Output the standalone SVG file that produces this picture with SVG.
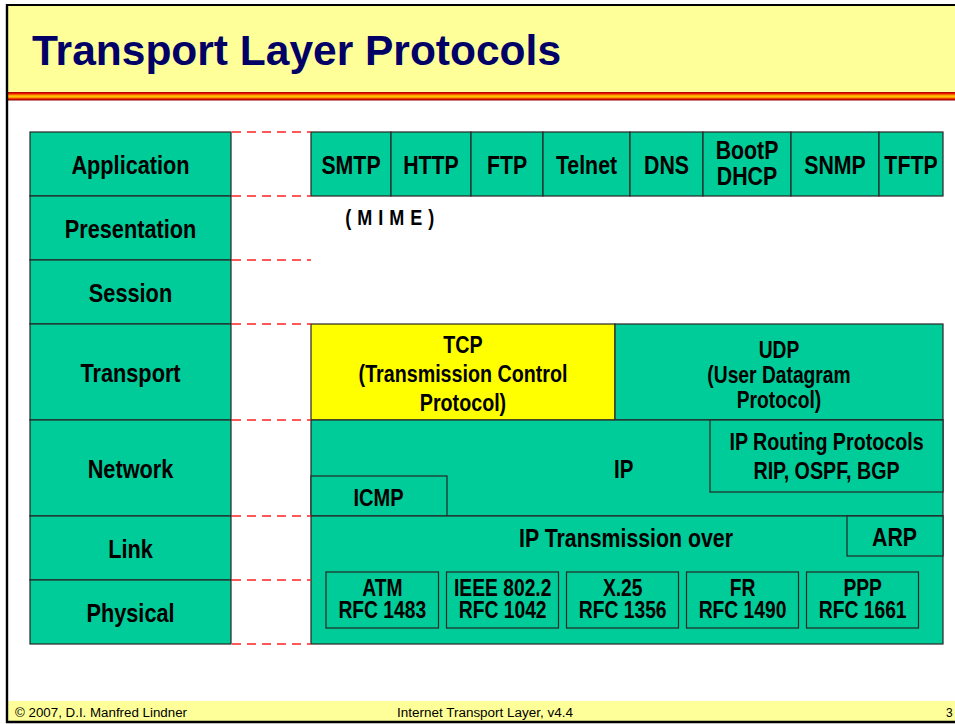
<svg xmlns="http://www.w3.org/2000/svg" width="955" height="724" viewBox="0 0 955 724">
<defs>
<linearGradient id="stripe" x1="0" y1="0" x2="0" y2="1">
<stop offset="0" stop-color="#990000"/>
<stop offset="0.18" stop-color="#EE1100"/>
<stop offset="0.38" stop-color="#FF9900"/>
<stop offset="0.5" stop-color="#FFCC00"/>
<stop offset="0.65" stop-color="#FF9900"/>
<stop offset="0.82" stop-color="#DD1100"/>
<stop offset="1" stop-color="#880000"/>
</linearGradient>
<style>
.g{fill:#00CC99;stroke:#262626;stroke-width:1.2}
.y{fill:#FFFF00;stroke:#262626;stroke-width:1.2}
.t{font-family:"Liberation Sans",Arial,sans-serif;font-weight:bold;fill:#000;text-anchor:middle}
.d{stroke:#FF2222;stroke-width:1.5;stroke-dasharray:9 6;fill:none}
.f{font-family:"Liberation Sans",Arial,sans-serif;font-size:12px;fill:#000}
</style>
</defs>
<rect x="0" y="0" width="955" height="724" fill="#FFFFFF"/>
<!-- header -->
<rect x="7" y="5" width="948" height="87" fill="#FFFF99"/>
<rect x="7" y="92" width="948" height="8.5" fill="url(#stripe)"/>
<text x="32" y="65" font-family="'Liberation Sans',Arial,sans-serif" font-weight="bold" font-size="42.5" fill="#000066">Transport Layer Protocols</text>
<!-- footer -->
<rect x="7" y="701" width="948" height="20" fill="#FFFF99"/>
<text class="f" x="15" y="716.5" textLength="172" lengthAdjust="spacingAndGlyphs">© 2007, D.I. Manfred Lindner</text>
<text class="f" x="397" y="716.5" textLength="176" lengthAdjust="spacingAndGlyphs">Internet Transport Layer, v4.4</text>
<text class="f" x="946" y="717">3</text>
<!-- frame -->
<line x1="6" y1="5" x2="955" y2="5" stroke="#000" stroke-width="2.2"/>
<line x1="7" y1="4" x2="7" y2="723" stroke="#000" stroke-width="2.4"/>
<line x1="6" y1="722" x2="955" y2="722" stroke="#000" stroke-width="2.4"/>

<!-- OSI layer column -->
<g id="layer-application"><rect class="g" x="30" y="132" width="201" height="64"/><text class="t" font-size="26.5" transform="translate(130.5,174) scale(0.82,1)">Application</text></g>
<g id="layer-presentation"><rect class="g" x="30" y="196" width="201" height="64"/><text class="t" font-size="26.5" transform="translate(130.5,238) scale(0.82,1)">Presentation</text></g>
<g id="layer-session"><rect class="g" x="30" y="260" width="201" height="64"/><text class="t" font-size="26.5" transform="translate(130.5,302) scale(0.82,1)">Session</text></g>
<g id="layer-transport"><rect class="g" x="30" y="324" width="201" height="96"/><text class="t" font-size="26.5" transform="translate(130.5,382) scale(0.82,1)">Transport</text></g>
<g id="layer-network"><rect class="g" x="30" y="420" width="201" height="96"/><text class="t" font-size="26.5" transform="translate(130.5,478) scale(0.82,1)">Network</text></g>
<g id="layer-link"><rect class="g" x="30" y="516" width="201" height="64"/><text class="t" font-size="26.5" transform="translate(130.5,558) scale(0.82,1)">Link</text></g>
<g id="layer-physical"><rect class="g" x="30" y="580" width="201" height="64"/><text class="t" font-size="26.5" transform="translate(130.5,622) scale(0.82,1)">Physical</text></g>

<!-- application protocols -->
<g id="smtp"><rect class="g" x="311" y="132" width="80" height="64"/><text class="t" font-size="26" transform="translate(351,174) scale(0.82,1)">SMTP</text></g>
<g id="http"><rect class="g" x="391" y="132" width="80" height="64"/><text class="t" font-size="26" transform="translate(431,174) scale(0.82,1)">HTTP</text></g>
<g id="ftp"><rect class="g" x="471" y="132" width="72" height="64"/><text class="t" font-size="26" transform="translate(507,174) scale(0.82,1)">FTP</text></g>
<g id="telnet"><rect class="g" x="543" y="132" width="87" height="64"/><text class="t" font-size="26" transform="translate(586.5,174) scale(0.82,1)">Telnet</text></g>
<g id="dns"><rect class="g" x="630" y="132" width="73" height="64"/><text class="t" font-size="26" transform="translate(666.5,174) scale(0.82,1)">DNS</text></g>
<g id="bootp-dhcp"><rect class="g" x="703" y="132" width="88" height="64"/><text class="t" font-size="26" transform="translate(747,159) scale(0.82,1)"><tspan x="0" y="0">BootP</tspan><tspan x="0" y="26.5">DHCP</tspan></text></g>
<g id="snmp"><rect class="g" x="791" y="132" width="88" height="64"/><text class="t" font-size="26" transform="translate(835,174) scale(0.82,1)">SNMP</text></g>
<g id="tftp"><rect class="g" x="879" y="132" width="64" height="64"/><text class="t" font-size="26" transform="translate(911,174) scale(0.82,1)">TFTP</text></g>

<g id="mime"><text class="t" font-size="22" letter-spacing="0.6" transform="translate(390,225) scale(0.82,1)">( M I M E )</text></g>

<!-- transport -->
<g id="tcp"><rect class="y" x="311" y="324" width="304" height="96"/><text class="t" font-size="24" transform="translate(463,352.5) scale(0.82,1)"><tspan x="0" y="0">TCP</tspan><tspan x="0" y="30">(Transmission Control</tspan><tspan x="0" y="58.5">Protocol)</tspan></text></g>
<g id="udp"><rect class="g" x="615" y="324" width="328" height="96"/><text class="t" font-size="23.5" transform="translate(779,358.3) scale(0.82,1)"><tspan x="0" y="0">UDP</tspan><tspan x="0" y="25">(User Datagram</tspan><tspan x="0" y="50">Protocol)</tspan></text></g>

<!-- network -->
<g id="ip"><rect class="g" x="311" y="420" width="632" height="96"/><text class="t" font-size="25" transform="translate(623.7,478.3) scale(0.82,1)">IP</text></g>
<g id="ip-routing"><rect class="g" x="710" y="420" width="233" height="72"/><text class="t" font-size="24" transform="translate(826.5,450) scale(0.82,1)"><tspan x="0" y="0">IP Routing Protocols</tspan><tspan x="0" y="29.3">RIP, OSPF, BGP</tspan></text></g>
<g id="icmp"><rect class="g" x="311" y="476" width="136" height="40"/><text class="t" font-size="24.5" transform="translate(378.5,506) scale(0.82,1)">ICMP</text></g>

<!-- link / physical -->
<g id="ip-transmission"><rect class="g" x="311" y="516" width="632" height="128"/><text class="t" font-size="26" transform="translate(626,546.7) scale(0.82,1)">IP Transmission over</text></g>
<g id="arp"><rect class="g" x="847" y="516" width="96" height="40"/><text class="t" font-size="26" transform="translate(894.5,545.7) scale(0.82,1)">ARP</text></g>
<g id="atm"><rect class="g" x="326" y="572" width="112.5" height="56"/><text class="t" font-size="23.5" transform="translate(382.3,596) scale(0.82,1)"><tspan x="0" y="0">ATM</tspan><tspan x="0" y="22.3">RFC 1483</tspan></text></g>
<g id="ieee"><rect class="g" x="446.5" y="572" width="112" height="56"/><text class="t" font-size="23.5" transform="translate(502.7,596) scale(0.82,1)"><tspan x="0" y="0">IEEE 802.2</tspan><tspan x="0" y="22.3">RFC 1042</tspan></text></g>
<g id="x25"><rect class="g" x="566.5" y="572" width="112" height="56"/><text class="t" font-size="23.5" transform="translate(622.7,596) scale(0.82,1)"><tspan x="0" y="0">X.25</tspan><tspan x="0" y="22.3">RFC 1356</tspan></text></g>
<g id="fr"><rect class="g" x="686.5" y="572" width="112" height="56"/><text class="t" font-size="23.5" transform="translate(742.5,596) scale(0.82,1)"><tspan x="0" y="0">FR</tspan><tspan x="0" y="22.3">RFC 1490</tspan></text></g>
<g id="ppp"><rect class="g" x="806.5" y="572" width="112" height="56"/><text class="t" font-size="23.5" transform="translate(862.7,596) scale(0.82,1)"><tspan x="0" y="0">PPP</tspan><tspan x="0" y="22.3">RFC 1661</tspan></text></g>

<!-- connectors: dashed layer boundaries -->
<g id="connectors">
<line class="d" x1="232" y1="132" x2="311" y2="132"/>
<line class="d" x1="232" y1="196" x2="311" y2="196"/>
<line class="d" x1="232" y1="260" x2="311" y2="260"/>
<line class="d" x1="232" y1="324" x2="311" y2="324"/>
<line class="d" x1="232" y1="420" x2="311" y2="420"/>
<line class="d" x1="232" y1="516" x2="311" y2="516"/>
<line class="d" x1="232" y1="580" x2="311" y2="580"/>
<line class="d" x1="232" y1="644" x2="311" y2="644"/>
</g>
</svg>
